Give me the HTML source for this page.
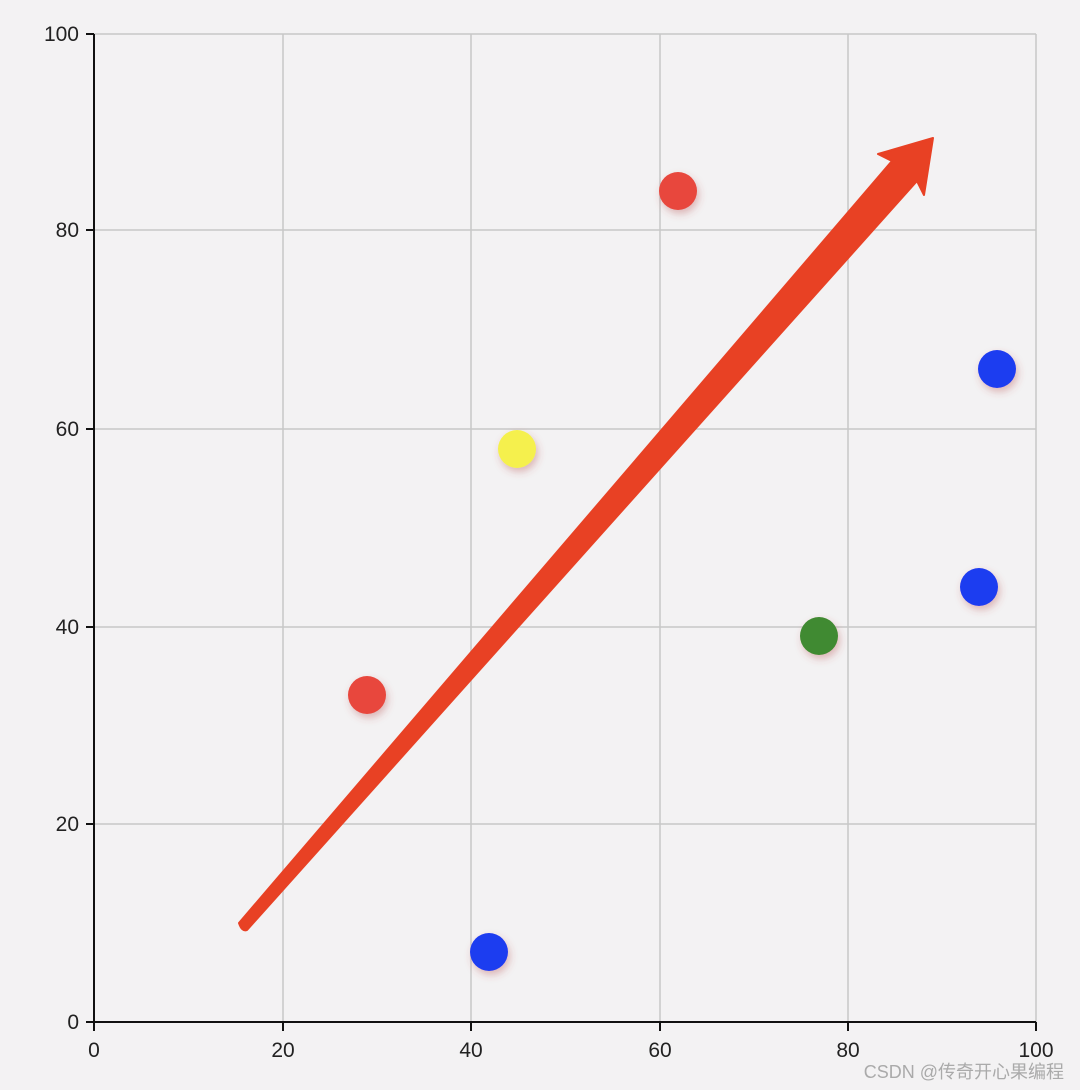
<!DOCTYPE html>
<html><head><meta charset="utf-8"><style>
html,body{margin:0;padding:0;background:#f3f2f3;}
svg{display:block;}
text{font-family:"Liberation Sans","Noto Sans CJK SC",sans-serif;}
</style></head><body>
<svg width="1080" height="1090" viewBox="0 0 1080 1090" xmlns="http://www.w3.org/2000/svg">
<defs>
<filter id="sh" x="-50%" y="-50%" width="200%" height="200%"><feDropShadow dx="2" dy="4" stdDeviation="4" flood-color="#b04040" flood-opacity="0.35"/></filter>
</defs>
<rect width="1080" height="1090" fill="#f3f2f3"/>
<g stroke="#c8c8c8" stroke-width="1.5">
<line x1="283" y1="34" x2="283" y2="1022"/><line x1="471" y1="34" x2="471" y2="1022"/>
<line x1="660" y1="34" x2="660" y2="1022"/><line x1="848" y1="34" x2="848" y2="1022"/>
<line x1="1036" y1="34" x2="1036" y2="1022"/>
<line x1="94" y1="34" x2="1036" y2="34"/><line x1="94" y1="230" x2="1036" y2="230"/>
<line x1="94" y1="429" x2="1036" y2="429"/><line x1="94" y1="627" x2="1036" y2="627"/>
<line x1="94" y1="824" x2="1036" y2="824"/>
</g>
<g stroke="#111" stroke-width="2">
<line x1="94" y1="34" x2="94" y2="1023"/><line x1="93" y1="1022" x2="1036" y2="1022"/>
<line x1="86" y1="34" x2="94" y2="34"/><line x1="86" y1="230" x2="94" y2="230"/><line x1="86" y1="429" x2="94" y2="429"/>
<line x1="86" y1="627" x2="94" y2="627"/><line x1="86" y1="824" x2="94" y2="824"/><line x1="86" y1="1022" x2="94" y2="1022"/>
<line x1="94" y1="1022" x2="94" y2="1031"/><line x1="283" y1="1022" x2="283" y2="1031"/><line x1="471" y1="1022" x2="471" y2="1031"/>
<line x1="660" y1="1022" x2="660" y2="1031"/><line x1="848" y1="1022" x2="848" y2="1031"/><line x1="1036" y1="1022" x2="1036" y2="1031"/>
</g>
<g font-size="21" fill="#222" text-anchor="end">
<text x="79" y="41">100</text><text x="79" y="237">80</text><text x="79" y="436">60</text>
<text x="79" y="634">40</text><text x="79" y="831">20</text><text x="79" y="1029">0</text>
</g>
<g font-size="21" fill="#222" text-anchor="middle">
<text x="94" y="1057">0</text><text x="283" y="1057">20</text><text x="471" y="1057">40</text>
<text x="660" y="1057">60</text><text x="848" y="1057">80</text><text x="1036" y="1057">100</text>
</g>
<g filter="url(#sh)">
<circle cx="367" cy="695" r="19" fill="#e8473c"/>
<circle cx="678" cy="191" r="19" fill="#e8473c"/>
<circle cx="517" cy="449" r="19" fill="#f5f04e"/>
<circle cx="997" cy="369" r="19" fill="#1f3cf0"/>
<circle cx="979" cy="587" r="19" fill="#1f3cf0"/>
<circle cx="819" cy="636" r="19" fill="#3f8a32"/>
<circle cx="489" cy="952" r="19" fill="#1f3cf0"/>
</g>
<path d="M239,923 L892,161 L878,154 L933,138 L924,195 L917,181 L247,930 Q242,932 239,923 Z" fill="#e84124" stroke="#e84124" stroke-width="2" stroke-linejoin="round"/>
<text x="1064" y="1078" font-size="18" fill="#aaa" text-anchor="end">CSDN @传奇开心果编程</text>
</svg>
</body></html>
